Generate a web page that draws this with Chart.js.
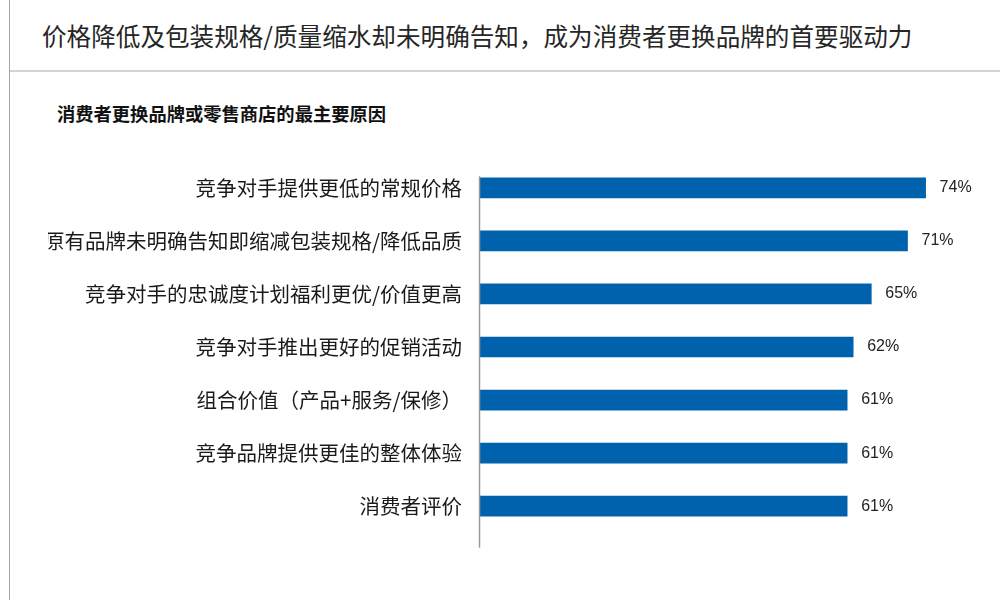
<!DOCTYPE html>
<html>
<head>
<meta charset="utf-8">
<script src="https://cdn.jsdelivr.net/npm/chart.js@4"></script>
<style>
  body { margin: 0; background: #fff; width: 1000px; height: 600px; overflow: hidden; position: relative; font-family: "Noto Sans CJK SC", "Noto Sans", sans-serif; }
  .frame { position: absolute; left: 9px; top: 0; width: 991px; height: 600px; border-left: 1px solid #a6a6a6; }
  .titre { position: absolute; left: 42px; top: 17px; margin: 0; font-size: 24.6px; font-weight: normal; color: #262626; white-space: nowrap; }
  .ligne { position: absolute; left: 10px; right: 0; top: 70px; border-top: 2px solid #d4d4d4; }
  .sous-titre { position: absolute; left: 57px; top: 100px; font-size: 18.3px; font-weight: bold; color: #111; white-space: nowrap; }
  .zone { position: absolute; left: 0; top: 132px; width: 1000px; height: 430px; }
</style>
</head>
<body>
<div class="frame"></div>
<h1 class="titre">价格降低及包装规格/质量缩水却未明确告知，成为消费者更换品牌的首要驱动力</h1>
<div class="ligne"></div>
<div class="sous-titre">消费者更换品牌或零售商店的最主要原因</div>
<div class="zone"><canvas id="barChart"></canvas></div>
<script>
// Datos del grafico
var razones = [
    "竞争对手提供更低的常规价格",
    "原有品牌未明确告知即缩减包装规格/降低品质",
    "竞争对手的忠诚度计划福利更优/价值更高",
    "竞争对手推出更好的促销活动",
    "组合价值（产品+服务/保修）",
    "竞争品牌提供更佳的整体体验",
    "消费者评价"
];
var porcentajes = [74, 71, 65, 62, 61, 61, 61];
var colorBarra = "#0062ad";

// Linea del eje vertical (un poco desplazada hacia abajo como en el original)
var lineaEje = {
    id: "lineaEje",
    afterDraw: function (chart) {
        var ctx = chart.ctx;
        var area = chart.chartArea;
        ctx.save();
        ctx.strokeStyle = "#9a9a9a";
        ctx.lineWidth = 1.5;
        ctx.beginPath();
        ctx.moveTo(area.left + 0.5, area.top + 15);
        ctx.lineTo(area.left + 0.5, area.bottom + 15);
        ctx.stroke();
        ctx.restore();
    }
};

// Etiquetas de valor a la derecha de cada barra
var etiquetas = {
    id: "etiquetas",
    afterDatasetsDraw: function (chart) {
        var ctx = chart.ctx;
        var meta = chart.getDatasetMeta(0);
        ctx.save();
        ctx.font = "16px 'Liberation Sans', Arial, sans-serif";
        ctx.fillStyle = "#222";
        ctx.textAlign = "left";
        ctx.textBaseline = "middle";
        meta.data.forEach(function (barra, i) {
            ctx.fillText(porcentajes[i] + "%", barra.x + 14, barra.y);
        });
        ctx.restore();
    }
};

var barChartCanvas = document.getElementById("barChart").getContext("2d");
new Chart(barChartCanvas, {
    type: "bar",
    data: {
        labels: razones,
        datasets: [
            {
                label: "%",
                data: porcentajes,
                backgroundColor: colorBarra,
                borderWidth: 0,
                barThickness: 20
            }
        ]
    },
    options: {
        indexAxis: "y",
        responsive: true,
        maintainAspectRatio: false,
        animation: false,
        layout: {
            padding: { left: 48, right: 8, top: 0, bottom: 0 }
        },
        plugins: {
            legend: { display: false },
            tooltip: { enabled: false }
        },
        scales: {
            x: {
                display: false,
                min: 0,
                max: 85
            },
            y: {
                grid: { display: false, drawTicks: false },
                border: { display: false },
                afterFit: function (scale) { scale.width = 431; },
                ticks: {
                    padding: 17,
                    color: "#1a1a1a",
                    font: { family: "'Noto Sans CJK SC', sans-serif", size: 20.5 }
                }
            }
        }
    },
    plugins: [lineaEje, etiquetas]
});
</script>
</body>
</html>
